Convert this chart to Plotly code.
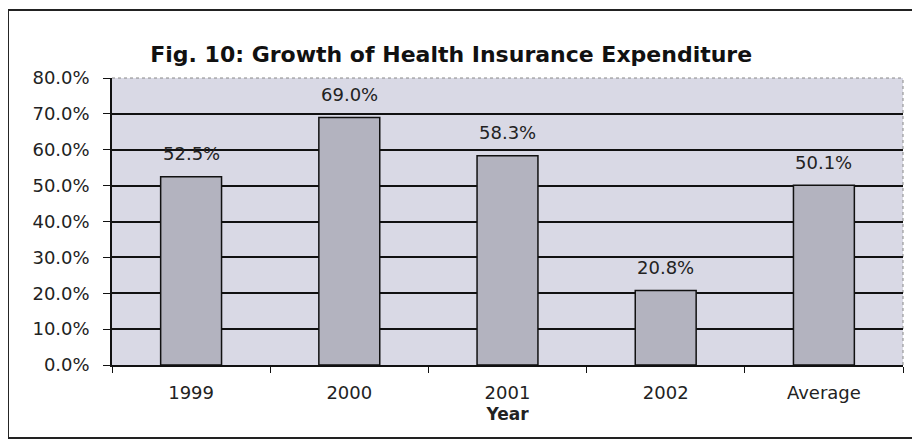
import plotly.graph_objects as go

categories = ["1999", "2000", "2001", "2002", "Average"]
growth = [52.5, 69.0, 58.3, 20.8, 50.1]
y_ticks = [0, 10, 20, 30, 40, 50, 60, 70, 80]
y_tick_labels = [f"{v:.1f}%" for v in y_ticks]

FONT = "DejaVu Sans, Verdana, sans-serif"

fig = go.Figure()
fig.add_trace(go.Bar(
    x=categories, y=growth,
    marker=dict(color="#b3b3bf", line=dict(color="#111111", width=1.5)),
    width=0.385,
    hoverinfo="skip",
))
# value labels (category index positions on the category axis)
for i, v in enumerate(growth):
    fig.add_annotation(x=i, y=v, xref="x", yref="y", text=f"{v:.1f}%", showarrow=False,
                       yshift=23, font=dict(size=18, color="#222222", family=FONT))

fig.update_layout(
    width=912, height=432,
    margin=dict(l=104, r=17, t=70, b=75),
    paper_bgcolor="white",
    plot_bgcolor="#d9d9e5",
    showlegend=False,
    font=dict(family=FONT, size=17, color="#222222"),
    title=dict(text="<b>Fig. 10: Growth of Health Insurance Expenditure</b>",
               x=0.486, xanchor="center", y=0.893, yanchor="middle",
               font=dict(size=22, color="#111111")),
)
fig.update_yaxes(range=[0, 80], tickvals=y_ticks, ticktext=y_tick_labels,
                 showgrid=True, gridcolor="#111111", gridwidth=1.5,
                 showline=True, linecolor="#111111", linewidth=1.5,
                 ticks="outside", ticklen=7, tickcolor="#111111", ticklabelstandoff=10,
                 tickfont=dict(size=18),
                 zeroline=False, fixedrange=True)
fig.update_xaxes(type="category", categoryorder="array", categoryarray=categories,
                 range=[-0.5, len(categories) - 0.5],
                 showline=True, linecolor="#111111", linewidth=1.5,
                 ticks="outside", tickson="boundaries", ticklen=6, tickcolor="#111111",
                 showgrid=False, ticklabelstandoff=11, tickfont=dict(size=18),
                 title=dict(text="<b>Year</b>", standoff=6, font=dict(size=17)),
                 fixedrange=True)

# faint dotted top/right edges of the plot area
fig.add_shape(type="line", xref="x domain", yref="y domain", x0=0, x1=1, y0=1, y1=1,
              line=dict(color="#888888", width=1, dash="dot"), layer="below")
fig.add_shape(type="line", xref="x domain", yref="y domain", x0=1, x1=1, y0=0, y1=1,
              line=dict(color="#888888", width=1, dash="dot"), layer="below")

# outer chart border
fig.add_shape(type="rect", xref="paper", yref="paper",
              x0=-0.1315, x1=1.016, y0=-0.254, y1=1.237,
              line=dict(color="#222222", width=2), fillcolor="rgba(0,0,0,0)")

fig.write_html("out.html")
